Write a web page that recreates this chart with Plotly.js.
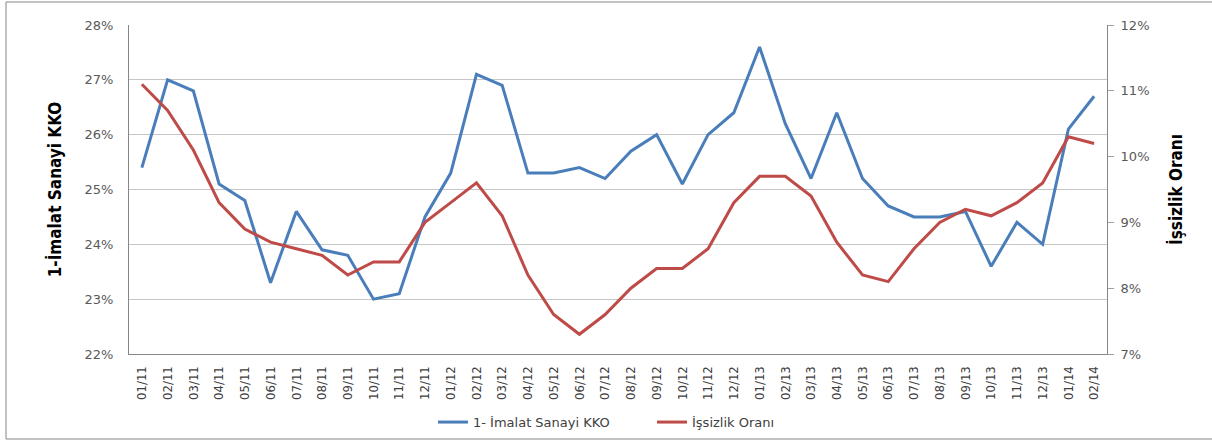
<!DOCTYPE html>
<html><head><meta charset="utf-8">
<script src="https://cdn.plot.ly/plotly-3.0.1.min.js"></script>
<style>html,body{margin:0;padding:0;background:#fff}#chart{width:1212px;height:441px}</style>
</head><body><div id="chart"></div>
<script>
const months = ["01/11","02/11","03/11","04/11","05/11","06/11","07/11","08/11","09/11","10/11","11/11","12/11",
"01/12","02/12","03/12","04/12","05/12","06/12","07/12","08/12","09/12","10/12","11/12","12/12",
"01/13","02/13","03/13","04/13","05/13","06/13","07/13","08/13","09/13","10/13","11/13","12/13",
"01/14","02/14"];
const kko = [25.4,27.0,26.8,25.1,24.8,23.3,24.6,23.9,23.8,23.0,23.1,24.5,
25.3,27.1,26.9,25.3,25.3,25.4,25.2,25.7,26.0,25.1,26.0,26.4,
27.6,26.2,25.2,26.4,25.2,24.7,24.5,24.5,24.6,23.6,24.4,24.0,
26.1,26.7];
const issizlik = [11.1,10.7,10.1,9.3,8.9,8.7,8.6,8.5,8.2,8.4,8.4,9.0,
9.3,9.6,9.1,8.2,7.6,7.3,7.6,8.0,8.3,8.3,8.6,9.3,
9.7,9.7,9.4,8.7,8.2,8.1,8.6,9.0,9.2,9.1,9.3,9.6,
10.3,10.2];
const name1 = "1- İmalat Sanayi KKO";
const name2 = "İşsizlik Oranı";
const leftTitle = "1-İmalat Sanayi KKO";
const rightTitle = "İşsizlik Oranı";

const idx = months.map((m,i)=>i);
const tickFont = {family:"DejaVu Sans, Verdana, sans-serif", size:13, color:"#595959"};
const narrow = "Liberation Sans Narrow, DejaVu Sans Condensed, Arial Narrow, sans-serif";

const traces = [
 {x: idx, y: kko.map(v=>v/100), name: name1, type:"scatter", mode:"lines",
  line:{color:"#4A7EBB", width:3}, yaxis:"y"},
 {x: idx, y: issizlik.map(v=>v/100), name: name2, type:"scatter", mode:"lines",
  line:{color:"#BE4B48", width:3}, yaxis:"y2"}
];
const pw = 978, ph = 329, L = 129, T = 25;
const layout = {
 width:1212, height:441,
 margin:{l:129, r:105, t:25, b:87, autoexpand:false},
 paper_bgcolor:"#fff", plot_bgcolor:"#fff",
 showlegend:true,
 legend:{orientation:"h", x:(433-L)/pw, xanchor:"left", y:-0.207, yanchor:"middle",
   entrywidth:174, entrywidthmode:"pixels",
   font:{family:"DejaVu Sans, Verdana, sans-serif", size:13, color:"#404040"}, bgcolor:"rgba(0,0,0,0)"},
 xaxis:{range:[-0.5,37.5], tickmode:"array", tickvals:idx, ticktext:months, tickangle:-90,
   showgrid:false, zeroline:false, showline:true, linecolor:"#868686", linewidth:1, automargin:false,
   ticks:"", tickfont:{family:narrow, size:13, color:"#404040"}, ticklabelstandoff:6},
 yaxis:{range:[0.22,0.28], dtick:0.01, tick0:0.22, tickformat:".0%", showgrid:true, gridcolor:"#C6C6C6",
   gridwidth:1, zeroline:false, showline:true, linecolor:"#868686", ticks:"", tickfont:tickFont,
   ticklabelstandoff:12, automargin:false,
   title:{text:leftTitle, font:{family:narrow, size:17, color:"#000", weight:"bold"}, standoff:18}},
 yaxis2:{range:[0.07,0.12], dtick:0.01, tick0:0.07, tickformat:".0%", overlaying:"y", side:"right",
   showgrid:false, zeroline:false, showline:true, linecolor:"#868686", ticks:"outside", ticklen:6,
   tickcolor:"#A0A0A0", tickfont:tickFont, ticklabelstandoff:4, automargin:false,
   title:{text:rightTitle, font:{family:narrow, size:17, color:"#000", weight:"bold"}, standoff:21}},
 shapes:[{type:"rect", xref:"paper", yref:"paper",
   x0:(6-L)/pw, x1:(1215-L)/pw, y0:(T+ph-439)/ph, y1:(T+ph-2)/ph,
   line:{color:"#868686", width:1}, fillcolor:"rgba(0,0,0,0)", layer:"below"}]
};
Plotly.newPlot("chart", traces, layout, {displayModeBar:false, staticPlot:true});
</script></body></html>
